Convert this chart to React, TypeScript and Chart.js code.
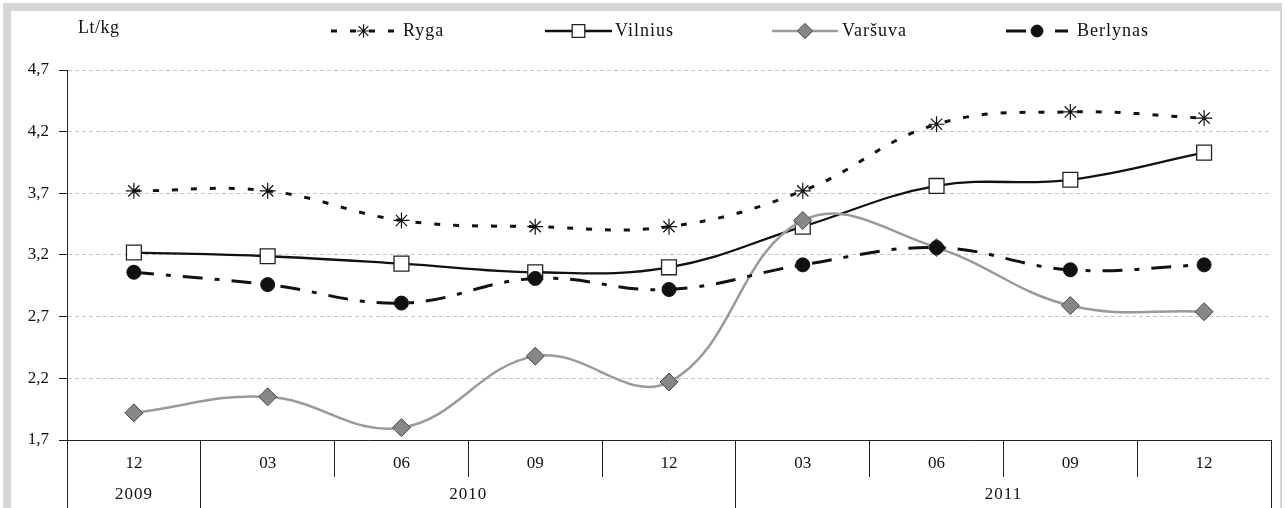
import React, { useEffect, useRef } from "react";
import { Chart, registerables } from "chart.js";
import { drawPoint } from "chart.js/helpers";

Chart.register(...registerables);

// ---- data ----
const months = ["12", "03", "06", "09", "12", "03", "06", "09", "12"];
const years = ["2009", "2010", "2011"];
const yearSpans = [1, 4, 4];
const yTicks = [1.7, 2.2, 2.7, 3.2, 3.7, 4.2, 4.7];
const unitLabel = "Lt/kg";
const seriesNames = ["Ryga", "Vilnius", "Varšuva", "Berlynas"];
const ryga = [3.72, 3.72, 3.48, 3.43, 3.43, 3.72, 4.26, 4.36, 4.31];
const vilnius = [3.22, 3.19, 3.13, 3.06, 3.1, 3.43, 3.76, 3.81, 4.03];
const varsuva = [1.92, 2.05, 1.8, 2.38, 2.17, 3.48, 3.26, 2.79, 2.74];
const berlynas = [3.06, 2.96, 2.81, 3.01, 2.92, 3.12, 3.26, 3.08, 3.12];

const SERIF = "'Liberation Serif', 'Times New Roman', serif";

// legend layout (positions only)
const legendLayout = [
  { x0: 331, x1: 396, tx: 403 },
  { x0: 545, x1: 612, tx: 615 },
  { x0: 772, x1: 838, tx: 842 },
  { x0: 1006, x1: 1068, tx: 1077 },
];

const alignPx = (p: number) => Math.round(p - 0.5) + 0.5;

const decorPlugin = {
  id: "decor",
  afterDraw(chart: any) {
    const ctx = chart.ctx as CanvasRenderingContext2D;
    const xs = chart.scales.x;
    const area = chart.chartArea;
    const H = chart.height;
    ctx.save();
    // year row
    const half = (xs.getPixelForValue(1) - xs.getPixelForValue(0)) / 2;
    ctx.strokeStyle = "#222";
    ctx.lineWidth = 1;
    ctx.fillStyle = "#111";
    ctx.font = `17px ${SERIF}`;
    (ctx as any).letterSpacing = "1px";
    ctx.textAlign = "center";
    ctx.textBaseline = "middle";
    let idx = 0;
    years.forEach((yr, i) => {
      const left = xs.getPixelForValue(idx) - half;
      const right = xs.getPixelForValue(idx + yearSpans[i] - 1) + half;
      const lx = alignPx(left);
      ctx.beginPath();
      ctx.moveTo(lx, area.bottom);
      ctx.lineTo(lx, H);
      ctx.stroke();
      ctx.fillText(yr, (left + right) / 2, 495);
      if (i === years.length - 1) {
        const rx = alignPx(right);
        ctx.beginPath();
        ctx.moveTo(rx, area.bottom);
        ctx.lineTo(rx, H);
        ctx.stroke();
      }
      idx += yearSpans[i];
    });

    // unit label
    ctx.textAlign = "left";
    ctx.font = `18px ${SERIF}`;
    (ctx as any).letterSpacing = "0.5px";
    ctx.fillText(unitLabel, 78, 28);

    // legend
    const ly = 31;
    chart.data.datasets.forEach((ds: any, i: number) => {
      const L = legendLayout[i];
      ctx.save();
      ctx.strokeStyle = ds.borderColor;
      ctx.lineWidth = ds.borderWidth;
      ctx.setLineDash(ds.borderDash || []);
      ctx.beginPath();
      ctx.moveTo(L.x0, ly);
      ctx.lineTo(L.x1, ly);
      ctx.stroke();
      ctx.setLineDash([]);
      ctx.fillStyle = ds.pointBackgroundColor;
      ctx.strokeStyle = ds.pointBorderColor;
      ctx.lineWidth = ds.pointBorderWidth;
      drawPoint(
        ctx,
        { pointStyle: ds.pointStyle, radius: ds.pointRadius * 0.85, rotation: 0, borderWidth: ds.pointBorderWidth } as any,
        (L.x0 + L.x1) / 2,
        ly
      );
      ctx.restore();
      ctx.fillStyle = "#111";
      ctx.font = `18px ${SERIF}`;
      (ctx as any).letterSpacing = "1px";
      ctx.textAlign = "left";
      ctx.textBaseline = "middle";
      ctx.fillText(seriesNames[i], L.tx, ly);
    });
    ctx.restore();
  },
};

export default function App() {
  const ref = useRef<HTMLCanvasElement | null>(null);
  useEffect(() => {
    if (!ref.current) return;
    const chart = new Chart(ref.current, {
      type: "line",
      data: {
        labels: months,
        datasets: [
          {
            label: seriesNames[0],
            data: ryga,
            borderColor: "#111",
            borderWidth: 3,
            borderDash: [6, 13],
            tension: 0.4,
            pointStyle: "star",
            pointRadius: 8,
            pointBorderWidth: 1.2,
            pointBorderColor: "#111",
            pointBackgroundColor: "#111",
            order: 2,
          },
          {
            label: seriesNames[1],
            data: vilnius,
            borderColor: "#111",
            borderWidth: 2.3,
            tension: 0.4,
            pointStyle: "rect",
            pointRadius: 10.5,
            pointBorderWidth: 1.3,
            pointBorderColor: "#222",
            pointBackgroundColor: "#fff",
            order: 3,
          },
          {
            label: seriesNames[2],
            data: varsuva,
            borderColor: "#9a9a9a",
            borderWidth: 2.5,
            tension: 0.4,
            pointStyle: "rectRot",
            pointRadius: 9,
            pointBorderWidth: 1,
            pointBorderColor: "#4a4a4a",
            pointBackgroundColor: "#878787",
            order: 1,
          },
          {
            label: seriesNames[3],
            data: berlynas,
            borderColor: "#111",
            borderWidth: 3,
            borderDash: [20, 12, 5, 12],
            tension: 0.4,
            pointStyle: "circle",
            pointRadius: 7,
            pointBorderWidth: 1,
            pointBorderColor: "#111",
            pointBackgroundColor: "#111",
            order: 0,
          },
        ] as any,
      },
      options: {
        animation: false,
        responsive: false,
        events: [],
        layout: { padding: { top: 70, right: 16, left: 0, bottom: 0 } },
        plugins: { legend: { display: false }, tooltip: { enabled: false } },
        scales: {
          x: {
            type: "category",
            offset: true,
            grid: {
              offset: true,
              drawOnChartArea: false,
              drawTicks: true,
              tickLength: 37,
              color: "#222",
              tickColor: "#222",
            },
            border: { display: true, color: "#222", width: 1 },
            ticks: {
              font: { family: SERIF, size: 17 },
              color: "#111",
              padding: -24,
              maxRotation: 0,
              autoSkip: false,
            },
            afterFit: (s: any) => {
              s.height = 68;
            },
          },
          y: {
            min: 1.7,
            max: 4.7,
            afterBuildTicks: (s: any) => {
              s.ticks = yTicks.map((v) => ({ value: v }));
            },
            grid: {
              color: "#c4c4c4",
              lineWidth: 1,
              drawTicks: true,
              tickLength: 8,
              tickColor: "#222",
              tickBorderDash: [],
            },
            border: { display: true, color: "#222", width: 1, dash: [4, 3] },
            ticks: {
              font: { family: SERIF, size: 17 },
              color: "#111",
              padding: 10,
              callback: (v: any) => Number(v).toFixed(1).replace(".", ","),
            },
            afterFit: (s: any) => {
              s.width = 67;
            },
          },
        },
      } as any,
      plugins: [decorPlugin],
    });
    return () => chart.destroy();
  }, []);

  return (
    <div style={{ position: "fixed", left: 0, top: 0, width: 1287, height: 508, background: "#fff", overflow: "hidden" }}>
      <div
        style={{
          position: "absolute",
          left: 3,
          top: 3,
          width: 1279,
          height: 520,
          borderLeft: "8px solid #d6d6d6",
          borderTop: "8px solid #d6d6d6",
          borderRight: "2px solid #d6d6d6",
          boxSizing: "border-box",
        }}
      />
      <canvas ref={ref} width={1287} height={508} style={{ position: "absolute", left: 0, top: 0 }} />
    </div>
  );
}
